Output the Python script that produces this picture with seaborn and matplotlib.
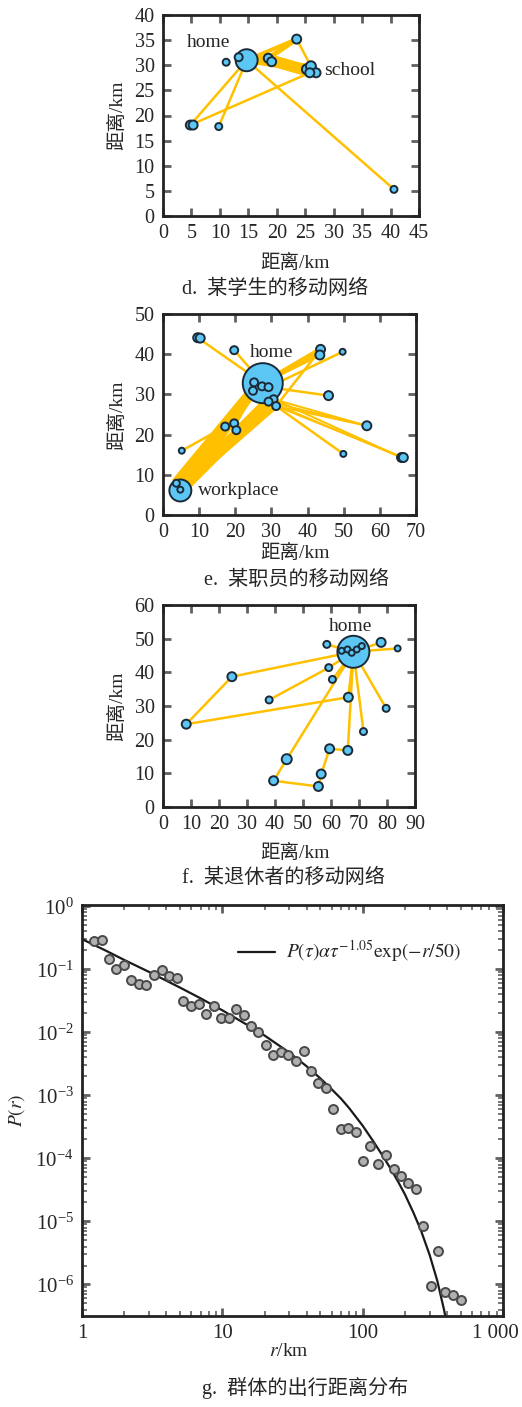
import numpy as np
import matplotlib
matplotlib.use('Agg')
import matplotlib.pyplot as plt
import seaborn as sns
from matplotlib.ticker import FixedLocator, FixedFormatter, LogLocator, LogFormatterMathtext, NullFormatter
from matplotlib.transforms import ScaledTranslation

sns.set_style('ticks')
plt.rcParams['font.family'] = ['Liberation Serif', 'Noto Sans CJK SC']
plt.rcParams['mathtext.fontset'] = 'stix'

# ─────────────────────────────────────────────
# d. student network  (node x, y in km, node diameter in px)
# ─────────────────────────────────────────────
d_x = [14.7, 13.3, 11.1, 18.5, 19.1, 23.5, 25.3, 26.0, 26.9, 25.8, 4.8, 5.3, 9.8, 40.6]
d_y = [31.0, 31.6, 30.6, 31.4, 30.7, 35.2, 29.2, 29.8, 28.5, 28.5, 18.1, 18.1, 17.8, 5.3]
d_size = [22, 8, 7, 9, 9, 9, 10, 10, 9, 9, 9, 9, 7, 7]
d_edges = [(0, 6, 6), (0, 7, 5), (3, 6, 9), (4, 9, 9), (0, 3, 6), (0, 5, 4), (3, 5, 5),
           (5, 7, 2.5), (0, 10, 2.5), (0, 12, 2.5), (10, 9, 2.5), (0, 13, 2.5)]

# ─────────────────────────────────────────────
# e. employee network
# ─────────────────────────────────────────────
e_x = [27.6, 25.2, 27.4, 29.2, 24.9, 30.6, 29.2, 31.3, 9.6, 10.3, 19.7, 43.6, 43.4,
       49.7, 45.8, 56.4, 66.0, 66.5, 49.9, 5.2, 17.2, 19.7, 20.3, 4.8, 3.7, 4.8]
e_y = [32.8, 33.0, 32.0, 31.8, 30.9, 28.8, 28.2, 27.1, 44.1, 44.0, 41.0, 41.2, 39.8,
       40.6, 29.7, 22.2, 14.3, 14.3, 15.2, 16.0, 22.0, 22.8, 21.1, 6.1, 7.9, 6.3]
e_size = [40, 8, 8, 8, 8, 8, 8, 8, 9, 9, 8, 9, 9, 6, 9, 9, 9, 9, 6, 6, 8, 8, 8, 22, 7, 6]
e_edges = [(24, 4, 11), (23, 6, 11), (23, 4, 10), (25, 6, 10), (25, 7, 5), (23, 5, 2),
           (23, 7, 2), (8, 0, 2.5), (10, 0, 2.5), (11, 0, 5), (12, 0, 3), (13, 3, 2.5),
           (7, 11, 2.5), (14, 3, 2.5), (15, 5, 2), (15, 6, 2), (15, 7, 2), (16, 5, 2),
           (16, 6, 2), (17, 7, 2), (18, 7, 2.5), (21, 4, 6), (22, 6, 3), (19, 20, 2.5)]

# ─────────────────────────────────────────────
# f. retiree network
# ─────────────────────────────────────────────
f_x = [68.0, 63.8, 65.9, 67.4, 69.2, 71.0, 58.5, 77.9, 83.8, 59.2, 60.5, 37.9,
       66.2, 24.6, 8.3, 79.7, 71.6, 59.5, 66.0, 44.2, 56.5, 39.5, 55.5]
f_y = [46.1, 46.4, 46.8, 45.8, 46.8, 47.8, 48.3, 48.9, 47.1, 41.4, 37.9, 31.8,
       32.6, 38.7, 24.6, 29.3, 22.4, 17.3, 16.8, 14.2, 9.8, 7.8, 6.1]
f_size = [32, 6, 6, 6, 6, 6, 7, 9, 6, 7, 7, 7, 9, 9, 9, 7, 7, 9, 9, 10, 9, 9, 9]
f_edges = [(0, 13, 2.5), (13, 14, 2.5), (14, 12, 2.5), (12, 0, 2.5), (11, 9, 2.5),
           (9, 0, 2.5), (10, 0, 2.5), (0, 19, 2.5), (19, 21, 2.5), (21, 22, 2.5),
           (22, 20, 2.5), (20, 17, 2.5), (17, 18, 2.5), (18, 0, 2.5), (0, 16, 2.5),
           (0, 15, 2.5), (0, 7, 2.5), (0, 8, 2.5), (0, 6, 2.5)]

# ─────────────────────────────────────────────
# g. travel distance distribution
# ─────────────────────────────────────────────
g_r = [1.21, 1.39, 1.55, 1.76, 1.99, 2.24, 2.54, 2.86, 3.25, 3.69, 4.16, 4.72, 5.26,
       6.0, 6.81, 7.69, 8.72, 9.73, 11.2, 12.6, 14.3, 16.1, 18.1, 20.4, 23.1, 26.1,
       29.5, 33.4, 37.9, 42.8, 48.2, 54.7, 61.7, 70.0, 79.0, 89.6, 101, 113, 129,
       147, 166, 188, 210, 238, 268, 347, 308, 389, 439, 499]
g_p = [0.28, 0.29, 0.148, 0.10, 0.119, 0.069, 0.059, 0.056, 0.080, 0.096, 0.078,
       0.073, 0.032, 0.0267, 0.0283, 0.0196, 0.0267, 0.0167, 0.0167, 0.0236, 0.0189,
       0.0128, 0.0103, 0.0063, 0.0044, 0.0048, 0.00435, 0.00353, 0.0051, 0.00245,
       0.00155, 0.00129, 0.0006, 0.00029, 0.000305, 0.000263, 8.95e-5, 1.59e-4,
       8.2e-5, 1.15e-4, 6.8e-5, 5.3e-5, 4.04e-5, 3.28e-5, 8.5e-6, 3.4e-6, 9.4e-7,
       7.5e-7, 6.7e-7, 5.7e-7]
# fitted curve
fit_r = [1, 1.5, 2, 3, 5, 7, 10, 15, 20, 30, 40, 50, 60, 70, 80, 100, 120, 140,
         160, 180, 200, 230, 260, 300, 340, 380, 420]
fit_p = [0.302, 0.195, 0.141, 0.0912, 0.0513, 0.0347, 0.0224, 0.0132, 0.00891,
         0.00479, 0.00288, 0.00186, 0.00126, 0.000891, 0.000631, 0.000331, 0.000182,
         0.000107, 6.61e-5, 4.17e-5, 2.69e-5, 1.38e-5, 7.24e-6, 2.95e-6, 1.15e-6,
         3.98e-7, 1.26e-7]
g_xticks = [1, 10, 100, 1000]
g_xticklabels = ['1', '10', '100', '1 000']

EDGE_C = '#FFC000'
NODE_C = '#5CC6F4'
NODE_EC = '#1B2A38'
W, H = 522, 1407

fig = plt.figure(figsize=(W / 100, H / 100), dpi=100)


def box(left, top, right, bottom):
    return [left / W, 1 - bottom / H, (right - left) / W, (bottom - top) / H]


def ftext(x, y, s, **kw):
    fig.text(x / W, 1 - y / H, s, ha='center', va='center', **kw)


def style(ax, size=14.5):
    for sp in ax.spines.values():
        sp.set_linewidth(2)
        sp.set_color('#222222')
    ax.tick_params(which='major', direction='in', top=True, right=True, length=6,
                   width=2, color='#606060', labelsize=size, pad=6)


def draw_net(ax, xs, ys, sizes, edges):
    for i, j, w in edges:
        ax.plot([xs[i], xs[j]], [ys[i], ys[j]], color=EDGE_C, lw=w * 0.72,
                solid_capstyle='butt', zorder=1)
    sns.scatterplot(x=xs, y=ys, s=[(d * 0.72) ** 2 for d in sizes], color=NODE_C,
                    edgecolor=NODE_EC, linewidth=1.4, ax=ax, zorder=3, legend=False)


# d
ax = fig.add_axes(box(163, 15, 419, 216))
draw_net(ax, d_x, d_y, d_size, d_edges)
ax.set_xlim(0, 45); ax.set_ylim(0, 40)
ax.set_xticks(range(0, 46, 5)); ax.set_yticks(range(0, 41, 5))
ax.text(8.0, 34.5, 'home', fontsize=14, ha='center', va='center')
ax.text(32.9, 28.9, 'school', fontsize=14, ha='center', va='center')
style(ax)
ftext(117, 115, '距离/km', fontsize=14, rotation=90)
ftext(295, 263, '距离/km', fontsize=14)
ftext(275, 289, 'd.  某学生的移动网络', fontsize=14.5)

# e
ax = fig.add_axes(box(163, 314, 416, 515))
draw_net(ax, e_x, e_y, e_size, e_edges)
ax.set_xlim(0, 70); ax.set_ylim(0, 50)
ax.set_xticks(range(0, 71, 10)); ax.set_yticks(range(0, 51, 10))
ax.text(30.0, 40.4, 'home', fontsize=14, ha='center', va='center', zorder=4,
        bbox=dict(facecolor='white', edgecolor='none', pad=1))
ax.text(21.0, 6.0, 'workplace', fontsize=14, ha='center', va='center', zorder=4,
        bbox=dict(facecolor='white', edgecolor='none', pad=1))
style(ax)
ftext(117, 415, '距离/km', fontsize=14, rotation=90)
ftext(295, 553, '距离/km', fontsize=14)
ftext(297, 580, 'e.  某职员的移动网络', fontsize=14.5)

# f
ax = fig.add_axes(box(163, 605, 415, 807))
draw_net(ax, f_x, f_y, f_size, f_edges)
ax.set_xlim(0, 90); ax.set_ylim(0, 60)
ax.set_xticks(range(0, 91, 10)); ax.set_yticks(range(0, 61, 10))
ax.text(66.9, 53.6, 'home', fontsize=14, ha='center', va='center')
style(ax)
ftext(117, 706, '距离/km', fontsize=14, rotation=90)
ftext(295, 853, '距离/km', fontsize=14)
ftext(284, 878, 'f.  某退休者的移动网络', fontsize=14.5)

# g
ax = fig.add_axes(box(82, 905, 503, 1316))
ax.set_xscale('log'); ax.set_yscale('log')
sns.lineplot(x=fit_r, y=fit_p, color='#1a1a1a', lw=1.6, estimator=None, sort=False,
             label=r'$P(\tau)\alpha\tau^{-1.05}\mathrm{exp}(-r/50)$', ax=ax, zorder=2)
sns.scatterplot(x=g_r, y=g_p, s=42, color='#B0B0B0', edgecolor='#4A4A4A',
                linewidth=1.4, ax=ax, zorder=3)
ax.set_xlim(1, 1000); ax.set_ylim(10 ** -6.5, 1.05)
ax.xaxis.set_major_locator(FixedLocator(g_xticks))
ax.xaxis.set_major_formatter(FixedFormatter(g_xticklabels))
ax.xaxis.set_minor_locator(LogLocator(base=10, subs=np.arange(2, 10), numticks=20))
ax.xaxis.set_minor_formatter(NullFormatter())
ax.yaxis.set_major_locator(FixedLocator([10.0 ** k for k in range(-6, 1)]))
ax.yaxis.set_major_formatter(LogFormatterMathtext())
ax.yaxis.set_minor_locator(LogLocator(base=10, subs=np.arange(2, 10), numticks=20))
ax.yaxis.set_minor_formatter(NullFormatter())
style(ax, size=15)
ax.tick_params(which='minor', direction='in', top=True, right=True, length=3.5,
               width=1.2, color='#606060')
# the last x label sits a little left of its tick, as in the original
last = ax.xaxis.get_major_ticks(len(g_xticks))[-1].label1
last.set_transform(last.get_transform() + ScaledTranslation(-0.08, 0, fig.dpi_scale_trans))
ax.legend(loc='center left', bbox_to_anchor=(0.37, 0.886), frameon=False,
          fontsize=14, handlelength=1.9, borderpad=0, borderaxespad=0, handletextpad=0.6)
ax.set_xlabel(''); ax.set_ylabel('')
ftext(17, 1110, r'$P(r)$', fontsize=14, rotation=90)
ftext(289, 1352, r'$r$/km', fontsize=14)
ftext(305, 1388, 'g.  群体的出行距离分布', fontsize=14.5)

fig.savefig('out.png', dpi=100)
